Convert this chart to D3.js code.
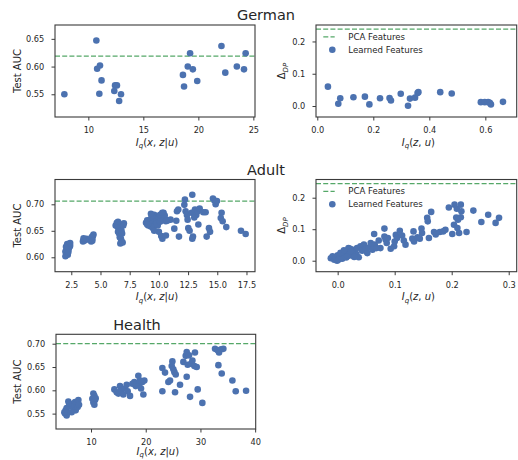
<!DOCTYPE html>
<html>
<head>
<meta charset="utf-8">
<script src="https://cdn.jsdelivr.net/npm/d3@7"></script>
<style>
  body { margin: 0; background: #fff; }
  svg { display: block; font-family: 'DejaVu Sans', sans-serif; }
</style>
</head>
<body>
<div id="chart"></div>
<script>
// ---- data ----
const germanIxz = [7.82, 10.73, 10.8, 11.06, 11.2, 11.0, 12.43, 12.6, 12.36, 12.97, 12.8, 19.25, 19.04, 19.5, 18.6, 18.7, 19.9, 22.1, 22.45, 23.5, 24.15, 24.3];
const germanAuc = [0.550, 0.647, 0.596, 0.602, 0.575, 0.551, 0.566, 0.566, 0.556, 0.550, 0.538, 0.624, 0.600, 0.595, 0.585, 0.564, 0.574, 0.637, 0.589, 0.600, 0.595, 0.624];
const germanIzu = [0.038, 0.075, 0.082, 0.129, 0.170, 0.186, 0.224, 0.258, 0.263, 0.298, 0.324, 0.331, 0.349, 0.358, 0.361, 0.439, 0.480, 0.584, 0.598, 0.610, 0.616, 0.620, 0.663];
const germanDp = [0.060, 0.007, 0.024, 0.027, 0.029, 0.005, 0.024, 0.025, 0.017, 0.038, 0.001, 0.023, 0.026, 0.040, 0.043, 0.043, 0.039, 0.012, 0.012, 0.012, 0.010, 0.005, 0.013];

const adultAucPoints = [
  [2.0,0.602],[2.05,0.608],[2.1,0.612],[2.15,0.618],[2.2,0.622],[2.3,0.625],[2.35,0.62],[2.1,0.615],[2.25,0.614],
  [2.4,0.622],[2.0,0.611],[2.2,0.605],[2.3,0.618],[2.15,0.625],[2.05,0.62],[2.4,0.627],[2.25,0.61],
  [3.5,0.630],[3.6,0.634],[3.7,0.632],[3.8,0.635],[3.55,0.636],
  [4.2,0.630],[4.3,0.635],[4.35,0.640],[4.4,0.643],[4.25,0.638],[4.3,0.631],
  [6.4,0.665],[6.5,0.662],[6.45,0.658],[6.55,0.655],[6.6,0.652],[6.5,0.648],[6.6,0.645],[6.7,0.642],[6.65,0.638],
  [6.75,0.635],[6.8,0.63],[6.7,0.626],[6.9,0.628],[6.6,0.66],[6.7,0.656],[6.8,0.65],[7.0,0.664],[6.95,0.66],
  [6.3,0.66],[6.85,0.645],[6.5,0.667],
  [8.9,0.665],[9.0,0.670],[9.1,0.660],[9.2,0.668],[9.3,0.672],[9.4,0.664],[9.5,0.675],[9.6,0.68],[9.3,0.658],
  [9.5,0.655],[9.7,0.668],[9.8,0.672],[10.0,0.676],[10.1,0.68],[10.2,0.674],[10.4,0.684],[10.3,0.67],[10.5,0.672],
  [10.6,0.668],[10.8,0.67],[9.9,0.66],[10.0,0.648],[10.2,0.64],[10.3,0.635],[10.6,0.641],[9.6,0.65],[9.8,0.663],
  [10.1,0.667],[9.0,0.662],[9.4,0.678],[10.5,0.679],[11.0,0.671],[9.32,0.682],[10.29,0.684],[10.66,0.669],
  [11.32,0.654],[11.49,0.669],[11.55,0.687],[11.66,0.690],[11.72,0.639],[12.23,0.709],[12.18,0.699],[12.29,0.687],
  [12.4,0.680],[12.46,0.671],[12.52,0.655],[12.63,0.650],[12.86,0.718],[12.8,0.684],[12.92,0.639],[12.86,0.635],
  [13.09,0.690],[13.2,0.680],[13.32,0.687],[13.38,0.662],[13.03,0.675],[13.49,0.692],[13.8,0.685],[14.0,0.685],
  [14.09,0.639],[14.29,0.655],[14.38,0.648],[14.63,0.711],[14.75,0.707],[14.86,0.700],[14.97,0.706],[15.37,0.684],
  [15.3,0.674],[15.46,0.668],[15.77,0.657],[17.03,0.650],[17.43,0.644]
];

const adultDpPoints = [
  [-0.012,0.008],[-0.009,0.014],[-0.006,0.003],[-0.004,0.011],[-0.001,0.0],[0.0,0.017],[0.004,0.009],[0.006,0.021],
  [0.010,0.013],[0.012,0.028],[0.014,0.019],[0.017,0.032],[0.020,0.024],[0.022,0.038],[0.024,0.017],[0.027,0.035],
  [0.030,0.028],[0.033,0.021],[0.034,0.040],[0.037,0.011],[0.002,0.004],[0.008,0.006],[0.015,0.010],[0.019,0.040],
  [0.026,0.026],[0.005,0.025],[0.011,0.033],[0.018,0.015],[0.023,0.030],[0.029,0.012],
  [0.040,0.046],[0.043,0.032],[0.046,0.051],[0.049,0.038],[0.052,0.024],[0.055,0.042],[0.058,0.056],[0.061,0.035],
  [0.064,0.085],[0.065,0.051],[0.068,0.040],[0.072,0.064],[0.075,0.040],[0.082,0.102],[0.082,0.077],[0.084,0.067],
  [0.086,0.056],[0.088,0.072],[0.093,0.038],[0.099,0.046],[0.100,0.061],[0.102,0.082],[0.104,0.072],[0.109,0.095],
  [0.113,0.080],[0.116,0.064],[0.119,0.051],[0.133,0.093],[0.134,0.061],[0.131,0.070],[0.140,0.074],[0.144,0.070],
  [0.147,0.102],[0.148,0.088],[0.157,0.136],[0.158,0.125],[0.160,0.072],[0.164,0.155],[0.169,0.091],[0.172,0.083],
  [0.179,0.091],[0.185,0.093],[0.189,0.098],[0.195,0.169],[0.201,0.085],[0.204,0.114],[0.205,0.178],[0.209,0.165],
  [0.208,0.137],[0.210,0.104],[0.211,0.130],[0.213,0.088],[0.216,0.178],[0.217,0.157],[0.216,0.138],[0.226,0.091],
  [0.238,0.159],[0.252,0.123],[0.264,0.146],[0.277,0.120],[0.283,0.136]
];

const healthAucPoints = [
  [5.25,0.550],[5.37,0.557],[5.55,0.562],[5.74,0.553],[5.86,0.576],[5.98,0.566],[5.55,0.546],[6.16,0.571],[6.77,0.561],
  [6.95,0.568],[7.08,0.575],[7.2,0.557],[7.38,0.571],[7.56,0.564],[7.69,0.579],[7.81,0.569],[6.47,0.553],[5.13,0.553],
  [10.43,0.593],[10.61,0.588],[10.24,0.582],[10.73,0.579],[10.43,0.574],[10.61,0.569],[10.85,0.583],
  [14.27,0.602],[14.69,0.596],[15.0,0.593],[15.3,0.609],[15.49,0.600],[15.91,0.591],[16.2,0.604],[16.52,0.612],
  [16.7,0.598],[17.13,0.588],[17.56,0.614],[17.92,0.618],[18.17,0.609],[18.35,0.614],[18.65,0.631],[18.78,0.611],
  [19.14,0.604],[19.39,0.618],[19.57,0.591],[19.75,0.621],[18.96,0.621],
  [23.04,0.648],[23.53,0.638],[23.04,0.598],[24.14,0.618],[24.44,0.621],[24.75,0.652],[24.87,0.662],[25.05,0.645],
  [25.24,0.639],[25.36,0.596],[25.48,0.634],[26.27,0.612],[26.88,0.661],[27.31,0.674],[27.49,0.682],[27.67,0.655],
  [27.49,0.629],[27.92,0.675],[28.1,0.586],[28.28,0.657],[28.53,0.664],[28.89,0.652],[29.0,0.681],[29.32,0.650],
  [29.5,0.602],[30.35,0.573],
  [32.67,0.689],[33.16,0.686],[33.4,0.681],[33.77,0.688],[34.19,0.689],[33.28,0.654],[33.89,0.636],[35.84,0.621],
  [36.45,0.598],[38.34,0.599]
];

const germanPcaAuc = 0.619, germanPcaDp = 0.238;
const adultPcaAuc = 0.706, adultPcaDp = 0.245;
const healthPcaAuc = 0.700;

const germanIxzTicks = [10, 15, 20, 25];
const germanAucTicks = [0.55, 0.60, 0.65];
const germanIzuTicks = [0.0, 0.2, 0.4, 0.6];
const dpTicks = [0.0, 0.1, 0.2];
const adultIxzTicks = [2.5, 5.0, 7.5, 10.0, 12.5, 15.0, 17.5];
const adultAucTicks = [0.60, 0.65, 0.70];
const adultIzuTicks = [0.0, 0.1, 0.2, 0.3];
const healthIxzTicks = [10, 20, 30, 40];
const healthAucTicks = [0.55, 0.60, 0.65, 0.70];

const legendLabels = ['PCA Features', 'Learned Features'];
const titles = [
  {text: 'German', x: 266, y: 20},
  {text: 'Adult', x: 266, y: 175},
  {text: 'Health', x: 137, y: 330}
];

// ---- styling ----
const blue = '#4C72B0', green = '#55A868', ink = '#262626', spine = '#3a3a3a';
const tickFont = 8.2, labelFont = 10;

const svg = d3.select('#chart')
  .append('svg')
  .attr('width', 518)
  .attr('height', 460);

svg.selectAll('text.title')
  .data(titles)
  .join('text')
    .attr('class', 'title')
    .attr('x', d => d.x)
    .attr('y', d => d.y)
    .attr('text-anchor', 'middle')
    .attr('font-size', 14.5)
    .attr('fill', ink)
    .text(d => d.text);

function xLabel(g, x, y, args) {
  // I_q(args) in mathtext style
  const t = g.append('text')
    .attr('x', x).attr('y', y)
    .attr('text-anchor', 'middle')
    .attr('font-size', labelFont)
    .attr('fill', ink);
  t.append('tspan').attr('font-style', 'italic').text('I');
  t.append('tspan').attr('font-style', 'italic').attr('font-size', 7).attr('dy', 2.4).text('q');
  t.append('tspan').attr('dy', -2.4).text('(');
  args.forEach(a => {
    t.append('tspan').attr('font-style', a.it ? 'italic' : 'normal').text(a.s);
  });
  t.append('tspan').text(')');
}

function drawPanel(cfg) {
  const x = d3.scaleLinear().domain(cfg.xDomain).range([cfg.left, cfg.left + cfg.w]);
  const y = d3.scaleLinear().domain(cfg.yDomain).range([cfg.top + cfg.h, cfg.top]);
  const g = svg.append('g');

  // reference line
  g.append('line')
    .attr('x1', cfg.left).attr('x2', cfg.left + cfg.w)
    .attr('y1', y(cfg.ref)).attr('y2', y(cfg.ref))
    .attr('stroke', green)
    .attr('stroke-width', 1.3)
    .attr('stroke-dasharray', '5,2.2');

  g.selectAll('circle')
    .data(cfg.points)
    .join('circle')
      .attr('cx', d => x(d[0]))
      .attr('cy', d => y(d[1]))
      .attr('r', 3.3)
      .attr('fill', blue);

  const xAxis = g.append('g')
    .attr('transform', `translate(0,${cfg.top + cfg.h})`)
    .call(d3.axisBottom(x).tickValues(cfg.xTicks).tickFormat(d3.format(cfg.xFmt)).tickSize(3.5).tickSizeOuter(0).tickPadding(5.2));
  const yAxis = g.append('g')
    .attr('transform', `translate(${cfg.left},0)`)
    .call(d3.axisLeft(y).tickValues(cfg.yTicks).tickFormat(d3.format(cfg.yFmt)).tickSize(3.5).tickSizeOuter(0).tickPadding(7.3));
  [xAxis, yAxis].forEach(a => {
    a.select('.domain').remove();
    a.selectAll('line').attr('stroke', spine).attr('stroke-width', 1);
    a.selectAll('text').attr('font-size', tickFont).attr('fill', ink).attr('font-family', 'DejaVu Sans');
  });
  xAxis.selectAll('text').attr('dy', '0.9em');

  // frame
  g.append('rect')
    .attr('x', cfg.left).attr('y', cfg.top)
    .attr('width', cfg.w).attr('height', cfg.h)
    .attr('fill', 'none')
    .attr('stroke', spine)
    .attr('stroke-width', 1.1);

  xLabel(g, cfg.left + cfg.w / 2 + 2, cfg.top + cfg.h + cfg.xLabelOff, cfg.xArgs);

  const yl = g.append('text')
    .attr('transform', `translate(${cfg.left - cfg.yLabelOff},${cfg.top + cfg.h / 2}) rotate(-90)`)
    .attr('text-anchor', 'middle')
    .attr('font-size', labelFont)
    .attr('fill', ink);
  if (cfg.yLabel === 'auc') {
    yl.text('Test AUC');
  } else {
    yl.append('tspan').text('Δ');
    yl.append('tspan').attr('font-style', 'italic').attr('font-size', 7).attr('dy', 2.6).text('DP');
  }

  if (cfg.legend) {
    const lx = cfg.left, ly = cfg.top;
    g.append('line')
      .attr('x1', lx + 7.3).attr('x2', lx + 18.7)
      .attr('y1', ly + 11.8).attr('y2', ly + 11.8)
      .attr('stroke', green).attr('stroke-width', 1.3)
      .attr('stroke-dasharray', '5,2.2');
    g.append('circle')
      .attr('cx', lx + 16.3).attr('cy', ly + 24.8)
      .attr('r', 3.3).attr('fill', blue);
    g.selectAll('text.leg')
      .data(legendLabels)
      .join('text')
        .attr('class', 'leg')
        .attr('x', lx + 32.3)
        .attr('y', (d, i) => ly + 14.9 + i * 13)
        .attr('font-size', 8.6)
        .attr('fill', ink)
        .text(d => d);
  }
}

const argsXZU = [{s: 'x', it: true}, {s: ', ', it: false}, {s: 'z', it: true}, {s: '|', it: false}, {s: 'u', it: true}];
const argsZU = [{s: 'z', it: true}, {s: ', ', it: false}, {s: 'u', it: true}];

drawPanel({
  left: 55, top: 25, w: 200, h: 92,
  xDomain: [6.97, 25.15], yDomain: [0.509, 0.675],
  xTicks: germanIxzTicks, yTicks: germanAucTicks, xFmt: 'd', yFmt: '.2f',
  points: germanIxz.map((v, i) => [v, germanAuc[i]]),
  ref: germanPcaAuc, xArgs: argsXZU, xLabelOff: 28.5, yLabel: 'auc', yLabelOff: 34
});
drawPanel({
  left: 316, top: 25, w: 200.7, h: 92,
  xDomain: [-0.0046, 0.712], yDomain: [-0.034, 0.251],
  xTicks: germanIzuTicks, yTicks: dpTicks, xFmt: '.1f', yFmt: '.1f',
  points: germanIzu.map((v, i) => [v, germanDp[i]]),
  ref: germanPcaDp, xArgs: argsZU, xLabelOff: 28.5, yLabel: 'dp', yLabelOff: 31, legend: true
});
drawPanel({
  left: 55, top: 179.5, w: 200, h: 92.2,
  xDomain: [1.105, 18.23], yDomain: [0.5728, 0.7468],
  xTicks: adultIxzTicks, yTicks: adultAucTicks, xFmt: '.1f', yFmt: '.2f',
  points: adultAucPoints,
  ref: adultPcaAuc, xArgs: argsXZU, xLabelOff: 28.5, yLabel: 'auc', yLabelOff: 34
});
drawPanel({
  left: 316, top: 179.5, w: 200.7, h: 92.2,
  xDomain: [-0.038, 0.314], yDomain: [-0.0349, 0.2578],
  xTicks: adultIzuTicks, yTicks: dpTicks, xFmt: '.1f', yFmt: '.1f',
  points: adultDpPoints,
  ref: adultPcaDp, xArgs: argsZU, xLabelOff: 28.5, yLabel: 'dp', yLabelOff: 31, legend: true
});
drawPanel({
  left: 56, top: 334.3, w: 199.7, h: 94.7,
  xDomain: [3.6, 40.1], yDomain: [0.517, 0.7202],
  xTicks: healthIxzTicks, yTicks: healthAucTicks, xFmt: 'd', yFmt: '.2f',
  points: healthAucPoints,
  ref: healthPcaAuc, xArgs: argsXZU, xLabelOff: 26, yLabel: 'auc', yLabelOff: 35
});
</script>
</body>
</html>
